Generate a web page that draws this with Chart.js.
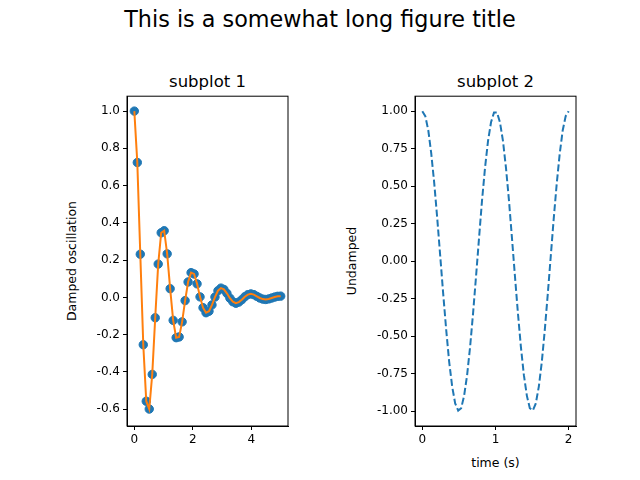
<!DOCTYPE html>
<html><head><meta charset="utf-8">
<script src="https://cdn.jsdelivr.net/npm/chart.js@4.4.0/dist/chart.umd.min.js"></script>
<style>
body{margin:0;width:640px;height:480px;background:#fff;position:relative;font-family:"DejaVu Sans",sans-serif;overflow:hidden}
.t{position:absolute;text-align:center;color:#000;white-space:nowrap}
.r{position:absolute;width:200px;text-align:center;font-size:12.5px;transform:translate(-50%,-50%) rotate(-90deg);white-space:nowrap}
canvas{position:absolute}
</style></head><body>
<div class="t" style="left:0;width:640px;top:6px;font-size:22.3px">This is a somewhat long figure title</div>
<div class="t" style="left:127px;width:161px;top:72px;font-size:16.5px">subplot 1</div>
<div class="t" style="left:415px;width:161px;top:72px;font-size:16.5px">subplot 2</div>
<div class="r" style="left:71px;top:261px">Damped oscillation</div>
<div class="r" style="left:351px;top:261px">Undamped</div>
<div class="t" style="left:415px;width:161px;top:455px;font-size:12.5px">time (s)</div>
<div style="position:absolute;left:0;top:86px;width:300px;height:394px"><canvas id="c1"></canvas></div>
<div style="position:absolute;left:300px;top:86px;width:340px;height:394px"><canvas id="c2"></canvas></div>
<script>
// Damped oscillation (subplot 1)
const dampX = [0,0.102,0.204,0.306,0.408,0.510,0.612,0.714,0.816,0.918,1.020,1.122,1.224,1.327,1.429,1.531,1.633,1.735,1.837,1.939,2.041,2.143,2.245,2.347,2.449,2.551,2.653,2.755,2.857,2.959,3.061,3.163,3.265,3.367,3.469,3.571,3.673,3.776,3.878,3.980,4.082,4.184,4.286,4.388,4.490,4.592,4.694,4.796,4.898,5.0];
const dampY = [1.0,0.724,0.232,-0.254,-0.557,-0.599,-0.413,-0.109,0.179,0.347,0.358,0.234,0.047,-0.123,-0.216,-0.212,-0.131,-0.017,0.083,0.133,0.126,0.073,0.003,-0.055,-0.082,-0.074,-0.040,0.002,0.036,0.050,0.043,0.022,-0.004,-0.023,-0.031,-0.025,-0.012,0.004,0.015,0.019,0.015,0.006,-0.003,-0.009,-0.011,-0.008,-0.003,0.002,0.006,0.007];
// Undamped (subplot 2)
const undX = [0,0.041,0.082,0.122,0.163,0.204,0.245,0.286,0.327,0.367,0.408,0.449,0.490,0.531,0.571,0.612,0.653,0.694,0.735,0.776,0.816,0.857,0.898,0.939,0.980,1.020,1.061,1.102,1.143,1.184,1.224,1.265,1.306,1.347,1.388,1.429,1.469,1.510,1.551,1.592,1.633,1.673,1.714,1.755,1.796,1.837,1.878,1.918,1.959,2.0];
const undY = [1,0.967,0.871,0.718,0.519,0.285,0.032,-0.222,-0.462,-0.672,-0.837,-0.949,-0.997,-0.981,-0.899,-0.761,-0.572,-0.345,-0.096,0.160,0.405,0.623,0.802,0.926,0.992,0.992,0.926,0.802,0.623,0.405,0.160,-0.096,-0.345,-0.572,-0.761,-0.899,-0.981,-0.997,-0.949,-0.837,-0.672,-0.462,-0.222,0.032,0.285,0.519,0.718,0.871,0.967,1];

const pts = (xs, ys) => xs.map((x,i)=>({x, y:ys[i]}));
const font = {family:"DejaVu Sans", size:12};
const frame = {id:'frame', afterDraw(c){const a=c.chartArea,g=c.ctx;g.save();g.strokeStyle='#000';g.lineWidth=1;g.strokeRect(a.left,a.top,a.right-a.left,a.bottom-a.top);g.restore();}};

function axis(min,max,step,fit){
  return {type:'linear',min,max,
    ticks:{stepSize:step,color:'#000',font,padding:3,includeBounds:false,
      callback:v=>{const s=Math.abs(v)<1e-9?0:v; return step===0.2?s.toFixed(1):step<1?s.toFixed(2):String(s);}},
    grid:{drawOnChartArea:false,drawTicks:true,tickLength:4,color:'#000'},
    border:{display:true,color:'#000'},
    afterFit:fit};
}

Chart.defaults.animation=false;
new Chart(document.getElementById('c1'),{
  type:'scatter',
  data:{datasets:[
    {data:pts(dampX,dampY),backgroundColor:'#1f77b4',borderColor:'#1f77b4',pointRadius:4.2,showLine:false,order:2},
    {data:pts(dampX,dampY),borderColor:'#ff7f0e',borderWidth:2,pointRadius:0,showLine:true,tension:0,order:1}
  ]},
  options:{responsive:true,maintainAspectRatio:false,
    layout:{padding:{top:10,right:12}},
    plugins:{legend:{display:false},tooltip:{enabled:false}},
    scales:{
      x:axis(-0.25,5.25,2,s=>{s.height=54;}),
      y:axis(-0.69,1.08,0.2,s=>{s.width=127;})
    }},
  plugins:[frame]
});
new Chart(document.getElementById('c2'),{
  type:'scatter',
  data:{datasets:[
    {data:pts(undX,undY),borderColor:'#1f77b4',borderWidth:2,borderDash:[7,3],pointRadius:0,showLine:true,tension:0}
  ]},
  options:{responsive:true,maintainAspectRatio:false,
    layout:{padding:{top:10,right:64}},
    plugins:{legend:{display:false},tooltip:{enabled:false}},
    scales:{
      x:axis(-0.1,2.1,1,s=>{s.height=54;}),
      y:axis(-1.1,1.1,0.25,s=>{s.width=115;})
    }},
  plugins:[frame]
});
</script>
</body></html>
